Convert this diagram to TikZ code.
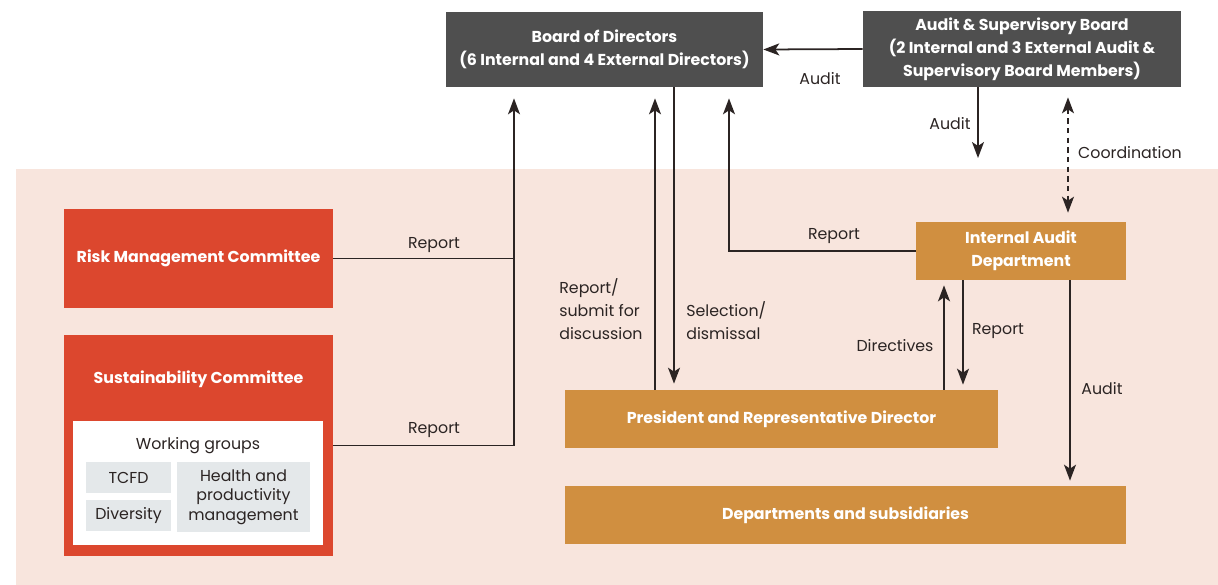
\documentclass[tikz,border=0pt]{standalone}
\usepackage{fontspec}
\setmainfont{Poppins}
\usepackage{tikz}
\usetikzlibrary{arrows.meta}
\usetikzlibrary{calc}

\definecolor{boardgray}{HTML}{4F4F4F}
\definecolor{riskred}{HTML}{DC472E}
\definecolor{deptorange}{HTML}{D08F40}
\definecolor{backpink}{HTML}{F8E5DD}
\definecolor{groupgray}{HTML}{E4E8EA}
\definecolor{linedark}{HTML}{2B2423}

\begin{document}
\begin{tikzpicture}[x=0.02cm, y=-0.02cm,
    every node/.style={font=\fontsize{9}{13}\selectfont, text=linedark},
    box/.style={rectangle, draw=none, inner sep=0pt, align=center, text=white, font=\fontsize{9}{13}\selectfont\bfseries},
    gbox/.style={rectangle, draw=none, fill=groupgray, inner sep=0pt, align=center, text=linedark},
    lbl/.style={align=left, inner sep=0pt},
    conn/.style={draw=linedark, line width=1pt},
    arr/.style={conn, -{Stealth[length=0.32cm, width=0.24cm, inset=0.08cm]}}]

    \useasboundingbox (0,0) rectangle (1218,585);
    \fill[backpink] (16,169) rectangle (1218,585);

    % top boards
    \node[box, fill=boardgray, minimum width=6.34cm, minimum height=1.5cm] (bod) at (604.5,49.5) {Board of Directors\\(6 Internal and 4 External Directors)};
    \node[box, fill=boardgray, minimum width=6.36cm, minimum height=1.52cm] (asb) at (1022,49) {Audit \& Supervisory Board\\(2 Internal and 3 External Audit \&\\Supervisory Board Members)};

    % committees
    \node[box, fill=riskred, minimum width=5.38cm, minimum height=1.98cm] (rmc) at (198.5,258.5) {Risk Management Committee};
    \node[box, fill=riskred, minimum width=5.38cm, minimum height=4.42cm] (sc) at (198.5,445.5) {};
    \node[box] (sctitle) at (198.5,379) {Sustainability Committee};
    \node[box, fill=white, minimum width=5.0cm, minimum height=2.48cm] (wg) at (198,483) {};
    \node[lbl] (wgtitle) at (198,446) {Working groups};
    \node[gbox, minimum width=1.7cm, minimum height=0.62cm] (tcfd) at (128.5,477.5) {TCFD};
    \node[gbox, minimum width=1.7cm, minimum height=0.62cm] (div) at (128.5,515.5) {Diversity};
    \node[gbox, minimum width=2.66cm, minimum height=1.4cm] (health) at (243.5,497) {Health and\\[-2pt]productivity\\[-2pt]management};

    % executive side
    \node[box, fill=deptorange, minimum width=4.2cm, minimum height=1.16cm] (iad) at (1021,251) {Internal Audit\\Department};
    \node[box, fill=deptorange, minimum width=8.66cm, minimum height=1.16cm] (pres) at (781.5,419) {President and Representative Director};
    \node[box, fill=deptorange, minimum width=11.22cm, minimum height=1.16cm] (dept) at (845.5,515) {Departments and subsidiaries};

    % reports up to the board
    \draw[conn] (rmc.east) -- (rmc.east -| 514,0);
    \draw[arr, shorten >=0.22cm] (sc.east) -| (bod.south -| 514,0);
    \draw[arr, shorten >=0.22cm] (pres.north -| 655,0) -- (bod.south -| 655,0);
    \draw[arr, shorten >=0.12cm] (bod.south -| 674,0) -- (pres.north -| 674,0);
    \draw[arr, shorten >=0.22cm] (iad.west) -| (bod.south -| 729,0);

    % audit board links
    \draw[arr] (asb.west) -- (bod.east);
    \coordinate (asbaudit) at (978,158);
    \draw[arr] (asb.south -| asbaudit) -- (asbaudit);
    \draw[conn, dashed, dash pattern=on 3pt off 2.5pt, {Stealth[length=0.32cm, width=0.24cm, inset=0.08cm]}-{Stealth[length=0.32cm, width=0.24cm, inset=0.08cm]}, shorten <=0.2cm, shorten >=0.18cm] (asb.south -| 1068,0) -- (iad.north -| 1068,0);

    % internal audit links
    \draw[arr, shorten >=0.1cm] (pres.north -| 944,0) -- (iad.south -| 944,0);
    \draw[arr, shorten >=0.1cm] (iad.south -| 963,0) -- (pres.north -| 963,0);
    \draw[arr, shorten >=0.1cm] (iad.south -| 1070,0) -- (dept.north -| 1070,0);

    % labels
    \node[lbl] (l1) at (820,79) {Audit};
    \node[lbl] (l2) at (950,124) {Audit};
    \node[lbl] (l3) at (1130,153) {Coordination};
    \node[lbl] (l4) at (434,245) {Report};
    \node[lbl] (l5) at (434,430) {Report};
    \node[lbl, anchor=west] (l6) at (559,309) {Report/\\submit for\\discussion};
    \node[lbl, anchor=west] (l7) at (686,321) {Selection/\\dismissal};
    \node[lbl] (l8) at (834,236) {Report};
    \node[lbl] (l9) at (895,346) {Directives};
    \node[lbl] (l10) at (998,331) {Report};
    \node[lbl] (l11) at (1102,389) {Audit};

\end{tikzpicture}
\end{document}
